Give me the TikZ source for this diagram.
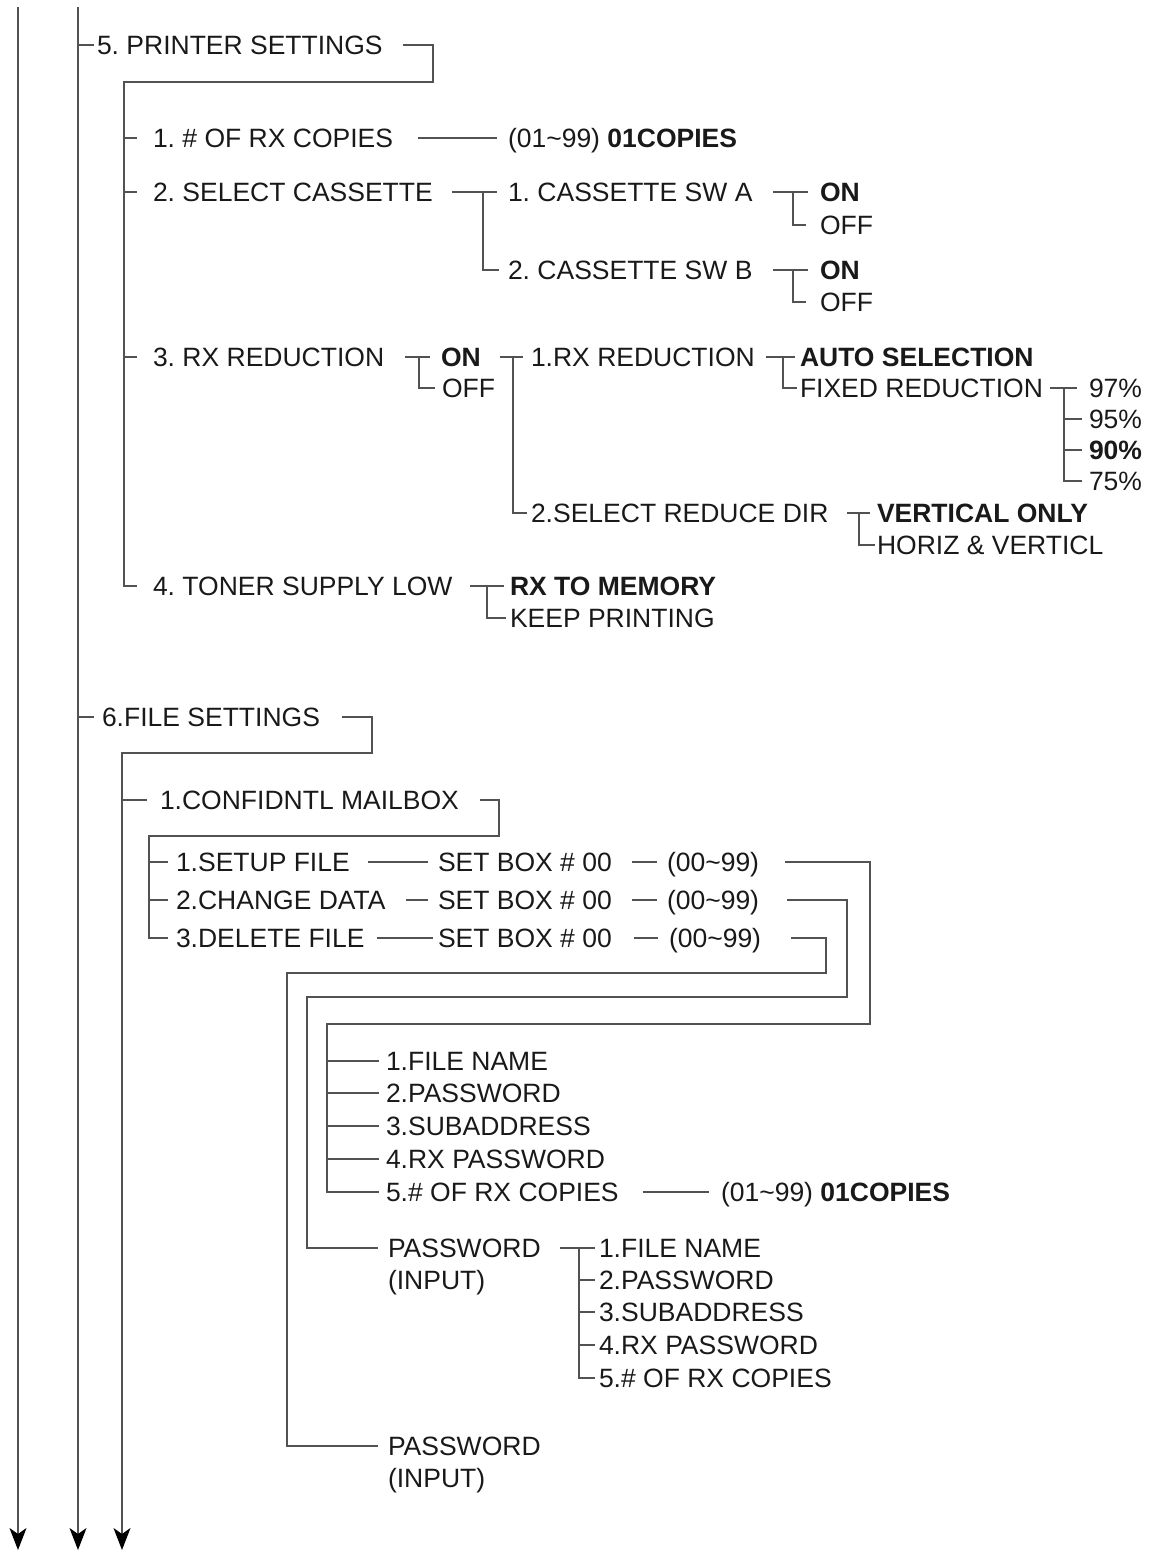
\documentclass[tikz,border=0pt]{standalone}
\usepackage{fontspec}
\setmainfont{Liberation Sans}
\usetikzlibrary{arrows.meta}
\frenchspacing
\newcommand\fsz{\fontsize{26.5pt}{30pt}\selectfont}
\tikzset{
  ln/.style={draw=black!68, line width=1.3pt},
  arr/.style={-{Stealth[length=22pt,width=17pt,inset=6pt,color=black]}},
  txt/.style={anchor=west, inner sep=0pt, outer sep=0pt, text height=19pt, text depth=0pt, font=\fsz, text=black!90},
  bt/.style={txt, font=\fsz\bfseries},
}
\begin{document}
\begin{tikzpicture}[x=1pt,y=-1pt]
\useasboundingbox (0,0) rectangle (1153,1553);
% ---------- section 5 ----------
\node[txt] (ps) at (97,45) {5. PRINTER SETTINGS};
\node[txt] (t1) at (153,138) {1. \# OF RX COPIES};
\node[txt] (c1) at (508,138) {(01\textasciitilde 99) \textbf{01COPIES}};
\node[txt] (t2) at (153,192) {2. SELECT CASSETTE};
\node[txt] (sa) at (508,192) {1. CASSETTE SW A};
\node[bt]  (saon) at (820,192) {ON};
\node[txt] (saoff) at (820,225) {OFF};
\node[txt] (sb) at (508,270) {2. CASSETTE SW B};
\node[bt]  (sbon) at (820,270) {ON};
\node[txt] (sboff) at (820,302) {OFF};
\node[txt] (t3) at (153,357) {3. RX REDUCTION};
\node[bt]  (ron) at (441,357) {ON};
\node[txt] (roff) at (442,388) {OFF};
\node[txt] (rr1) at (531,357) {1.RX REDUCTION};
\node[bt]  (auto) at (800,357) {AUTO SELECTION};
\node[txt] (fixed) at (800,388) {FIXED REDUCTION};
\node[txt] (p97) at (1089,388) {97\%};
\node[txt] (p95) at (1089,419) {95\%};
\node[bt]  (p90) at (1089,450) {90\%};
\node[txt] (p75) at (1089,481) {75\%};
\node[txt] (rr2) at (531,513) {2.SELECT REDUCE DIR};
\node[bt]  (vo) at (877,513) {VERTICAL ONLY};
\node[txt] (hv) at (877,545) {HORIZ \& VERTICL};
\node[txt] (t4) at (153,586) {4. TONER SUPPLY LOW};
\node[bt]  (rm) at (510,586) {RX TO MEMORY};
\node[txt] (kp) at (510,618) {KEEP PRINTING};
% ---------- section 6 ----------
\node[txt] (fs) at (102,717) {6.FILE SETTINGS};
\node[txt] (cm) at (160,800) {1.CONFIDNTL MAILBOX};
\node[txt] (sf) at (176,862) {1.SETUP FILE};
\node[txt] (cd) at (176,900) {2.CHANGE DATA};
\node[txt] (df) at (176,938) {3.DELETE FILE};
\node[txt] (sb1) at (438,862) {SET BOX \# 00};
\node[txt] (sb2) at (438,900) {SET BOX \# 00};
\node[txt] (sb3) at (438,938) {SET BOX \# 00};
\node[txt] (r1) at (667,862) {(00\textasciitilde 99)};
\node[txt] (r2) at (667,900) {(00\textasciitilde 99)};
\node[txt] (r3) at (669,938) {(00\textasciitilde 99)};
\node[txt] (m1) at (386,1061) {1.FILE NAME};
\node[txt] (m2) at (386,1093) {2.PASSWORD};
\node[txt] (m3) at (386,1126) {3.SUBADDRESS};
\node[txt] (m4) at (386,1159) {4.RX PASSWORD};
\node[txt] (m5) at (386,1192) {5.\# OF RX COPIES};
\node[txt] (mc) at (721,1192) {(01\textasciitilde 99) \textbf{01COPIES}};
\node[txt] (pw1) at (388,1248) {PASSWORD};
\node[txt] (pw1b) at (388,1280) {(INPUT)};
\node[txt] (n1) at (599,1248) {1.FILE NAME};
\node[txt] (n2) at (599,1280) {2.PASSWORD};
\node[txt] (n3) at (599,1312) {3.SUBADDRESS};
\node[txt] (n4) at (599,1345) {4.RX PASSWORD};
\node[txt] (n5) at (599,1378) {5.\# OF RX COPIES};
\node[txt] (pw2) at (388,1446) {PASSWORD};
\node[txt] (pw2b) at (388,1478) {(INPUT)};
% ---------- main verticals ----------
\coordinate (top1) at (18,7);
\coordinate (bot1) at (18,1550);
\coordinate (top2) at (78,7);
\coordinate (bot2) at (78,1550);
\draw[ln,arr] (top1) -- (bot1);
\draw[ln,arr] (top2) -- (bot2);
% ---------- section 5 connectors ----------
\draw[ln] (78,45) -- ([xshift=-3pt]ps.west);
\draw[ln] ([xshift=20pt]ps.east) -| (433,82) -- (124,82) |- ([xshift=-16pt]t4.west);
\draw[ln] (124,138) -- ([xshift=-16pt]t1.west);
\draw[ln] (124,192) -- ([xshift=-16pt]t2.west);
\draw[ln] (124,357) -- ([xshift=-16pt]t3.west);
\draw[ln] ([xshift=25pt]t1.east) -- ([xshift=-11pt]c1.west);
\draw[ln] ([xshift=19pt]t2.east) -- ([xshift=-11pt]sa.west);
\draw[ln] (483,192) |- ([xshift=-9pt]sb.west);
\draw[ln] ([xshift=21pt]sa.east) -- ([xshift=-12pt]saon.west);
\draw[ln] (793,192) |- ([xshift=-14pt]saoff.west);
\draw[ln] ([xshift=21pt]sb.east) -- ([xshift=-12pt]sbon.west);
\draw[ln] (793,270) |- ([xshift=-14pt]sboff.west);
\draw[ln] ([xshift=21pt]t3.east) -- ([xshift=-11pt]ron.west);
\draw[ln] (419,357) |- ([xshift=-7pt]roff.west);
\draw[ln] ([xshift=19pt]ron.east) -- ([xshift=-8pt]rr1.west);
\draw[ln] (513,357) |- ([xshift=-4pt]rr2.west);
\draw[ln] ([xshift=11pt]rr1.east) -- ([xshift=-5pt]auto.west);
\draw[ln] (783,357) |- ([xshift=-3pt]fixed.west);
\draw[ln] ([xshift=7pt]fixed.east) -- ([xshift=-12pt]p97.west);
\draw[ln] (1064,388) |- ([xshift=-7pt]p75.west);
\draw[ln] (1064,419) -- ([xshift=-7pt]p95.west);
\draw[ln] (1064,450) -- ([xshift=-7pt]p90.west);
\draw[ln] ([xshift=19pt]rr2.east) -- ([xshift=-7pt]vo.west);
\draw[ln] (859,513) |- ([xshift=-2pt]hv.west);
\draw[ln] ([xshift=18pt]t4.east) -- ([xshift=-6pt]rm.west);
\draw[ln] (487,586) |- ([xshift=-4pt]kp.west);
% ---------- section 6 connectors ----------
\draw[ln] (78,717) -- ([xshift=-8pt]fs.west);
\draw[ln,arr] ([xshift=22pt]fs.east) -| (372,753) -- (122,753) -- (122,1550);
\draw[ln] (122,800) -- ([xshift=-13pt]cm.west);
\draw[ln] ([xshift=21pt]cm.east) -| (499,836) -- (149,836) |- ([xshift=-8pt]df.west);
\draw[ln] (149,862) -- ([xshift=-8pt]sf.west);
\draw[ln] (149,900) -- ([xshift=-8pt]cd.west);
\draw[ln] ([xshift=18pt]sf.east) -- ([xshift=-10pt]sb1.west);
\draw[ln] ([xshift=20pt]cd.east) -- ([xshift=-10pt]sb2.west);
\draw[ln] ([xshift=12pt]df.east) -- ([xshift=-5pt]sb3.west);
\draw[ln] ([xshift=20pt]sb1.east) -- ([xshift=-10pt]r1.west);
\draw[ln] ([xshift=20pt]sb2.east) -- ([xshift=-10pt]r2.west);
\draw[ln] ([xshift=22pt]sb3.east) -- ([xshift=-11pt]r3.west);
\draw[ln] ([xshift=26pt]r1.east) -| (870,1024) -- (327,1024) |- ([xshift=-7pt]m5.west);
\draw[ln] ([xshift=28pt]r2.east) -| (847,997) -- (307,997) |- ([xshift=-10pt]pw1.west);
\draw[ln] ([xshift=30pt]r3.east) -| (826,973) -- (287,973) |- ([xshift=-10pt]pw2.west);
\foreach \m in {m1,m2,m3,m4} { \draw[ln] (327,0 |- \m.west) -- ([xshift=-7pt]\m.west); }
\draw[ln] ([xshift=24pt]m5.east) -- ([xshift=-12pt]mc.west);
\draw[ln] ([xshift=19pt]pw1.east) -- ([xshift=-4pt]n1.west);
\draw[ln] (579,1248) |- ([xshift=-4pt]n5.west);
\foreach \m in {n2,n3,n4} { \draw[ln] (579,0 |- \m.west) -- ([xshift=-4pt]\m.west); }
\end{tikzpicture}
\end{document}
